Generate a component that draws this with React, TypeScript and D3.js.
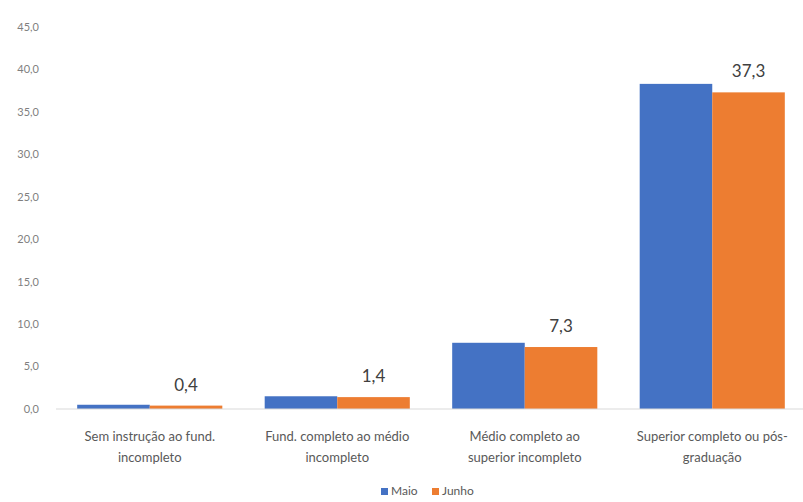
import React from "react";
import * as d3 from "d3";

const categories = [
  ["Sem instrução ao fund.", "incompleto"],
  ["Fund. completo ao médio", "incompleto"],
  ["Médio completo ao", "superior incompleto"],
  ["Superior completo ou pós-", "graduação"],
];
const maio = [0.5, 1.5, 7.8, 38.3];
const junho = [0.4, 1.4, 7.3, 37.3];
const yTicks = [0, 5, 10, 15, 20, 25, 30, 35, 40, 45];
const seriesNames = ["Maio", "Junho"];
const colors = ["#4472C4", "#ED7D31"];

const W = 803, H = 502;
const FONT = "Lato, 'Open Sans', sans-serif";

export default function App() {
  const x0 = d3.scaleBand<number>().domain(d3.range(categories.length)).range([56, 806]).paddingInner(0.226).paddingOuter(0.113);
  const x1 = d3.scaleBand<number>().domain([0, 1]).range([0, x0.bandwidth()]);
  const y = d3.scaleLinear().domain([0, 45]).range([409, 27]);
  const fmt = (v: number) => v.toFixed(1).replace(".", ",");
  const series = [maio, junho];
  return (
    <svg width={W} height={H} style={{ position: "absolute", left: 0, top: 0, background: "#fff" }}>
      {yTicks.map((t) => (
        <text key={t} x={39} y={y(t)} dy="0.35em" textAnchor="end" fontSize={11} fill="#7f7f7f" fontFamily={FONT}>
          {fmt(t)}
        </text>
      ))}
      {categories.map((c, i) =>
        series.map((s, j) => (
          <rect key={`${i}-${j}`} x={x0(i)! + x1(j)!} y={y(s[i])} width={x1.bandwidth()} height={y(0) - y(s[i])} fill={colors[j]} />
        ))
      )}
      <line x1={56} x2={803} y1={y(0)} y2={y(0)} stroke="#d9d9d9" strokeWidth={1} />
      {categories.map((c, i) => (
        <text key={`l${i}`} x={x0(i)! + x1(1)! + x1.bandwidth() / 2} y={y(junho[i]) - 15} textAnchor="middle" fontSize={17} fill="#404040" fontFamily={FONT}>
          {fmt(junho[i])}
        </text>
      ))}
      {categories.map((c, i) => (
        <text key={`c${i}`} x={x0(i)! + x0.bandwidth() / 2} textAnchor="middle" fontSize={13} fill="#595959" fontFamily={FONT}>
          <tspan x={x0(i)! + x0.bandwidth() / 2} y={441}>{c[0]}</tspan>
          <tspan x={x0(i)! + x0.bandwidth() / 2} y={462}>{c[1]}</tspan>
        </text>
      ))}
      {seriesNames.map((n, j) => {
        const lx = j === 0 ? 381 : 432;
        return (
          <g key={n}>
            <rect x={lx} y={488} width={7} height={7} fill={colors[j]} />
            <text x={lx + 10} y={495} fontSize={12} fill="#595959" fontFamily={FONT}>{n}</text>
          </g>
        );
      })}
    </svg>
  );
}
